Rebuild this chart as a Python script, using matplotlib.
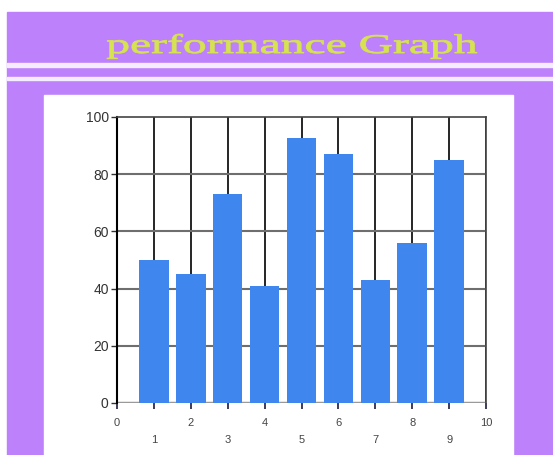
import matplotlib
matplotlib.use("Agg")
import matplotlib.pyplot as plt
from matplotlib.patches import Rectangle, PathPatch
from matplotlib.textpath import TextPath
from matplotlib.font_manager import FontProperties
from matplotlib.transforms import Affine2D

# bar data
positions = [1, 2, 3, 4, 5, 6, 7, 8, 9]
scores = [50, 45, 73, 41, 92.5, 87, 43, 56, 85]
y_ticks = [0, 20, 40, 60, 80, 100]
even_ticks = [0, 2, 4, 6, 8, 10]
odd_ticks = [1, 3, 5, 7, 9]
title = "performance Graph"

W, H = 553, 455
purple = "#bd82fb"
bar_blue = "#3f86ee"

fig = plt.figure(figsize=(W / 100, H / 100), dpi=100, facecolor="white")

def px_rect(x0, y0, x1, y1, color):
    # rectangle given in pixels from the top-left corner
    fig.patches.append(Rectangle((x0 / W, 1 - y1 / H), (x1 - x0) / W, (y1 - y0) / H,
                                 transform=fig.transFigure, color=color, zorder=-2))

px_rect(7, 12, W, H, purple)
px_rect(7, 63, W, 67, "#f6ecff")
px_rect(7, 77, W, 80, "#f6ecff")
px_rect(44, 95, 513, H, "white")

# wide serif heading: glyph outlines stretched sideways
tp = TextPath((0, 0), title, size=27, prop=FontProperties(family="Liberation Serif"))
ext = tp.get_extents()
sx = 370 / ext.width
head = PathPatch(tp, facecolor="#d6e250", edgecolor="#d6e250", lw=0.6,
                 transform=Affine2D().translate(-ext.x0, 0).scale(sx, 1).translate(107, H - 53),
                 zorder=-1)
fig.patches.append(head)

ax = fig.add_axes([117 / W, 52 / H, 369 / W, 286 / H])
ax.set_zorder(1)
ax.set_facecolor("none")
ax.set_xlim(0, 10)
ax.set_ylim(0, 100)

# vertical black lines at every integer, gray horizontals
for x in range(0, 11):
    ax.axvline(x, color="black", lw=1.2, zorder=1)
for y in y_ticks[1:-1]:
    ax.axhline(y, color="#6e6e6e", lw=1.5, zorder=1)
ax.axhline(0, color="#9a9a9a", lw=2.5, zorder=1)

ax.bar(positions, scores, width=0.8, color=bar_blue, zorder=2)

for side in ["top", "right"]:
    ax.spines[side].set_color("#444444")
    ax.spines[side].set_linewidth(1.2)
ax.spines["left"].set_color("black")
ax.spines["left"].set_linewidth(1.5)
ax.spines["bottom"].set_visible(False)

ax.set_yticks(y_ticks)
ax.set_yticklabels([str(v) for v in y_ticks], fontsize=10, color="#333333",
                   family="Liberation Sans")
ax.tick_params(axis="y", length=4, width=1, color="#333333", pad=2)

ax.set_xticks(range(0, 11))
ax.set_xticklabels([""] * 11)
ax.tick_params(axis="x", length=4, width=1.2, color="#1a1a40", direction="out")
for x in even_ticks:
    ax.text(x, -5.3, str(x), ha="center", va="top", fontsize=8, color="#444444",
            family="Liberation Sans")
for x in odd_ticks:
    ax.text(x, -11.2, str(x), ha="center", va="top", fontsize=8, color="#444444",
            family="Liberation Sans")

fig.savefig("out.png", dpi=100, facecolor="white")
